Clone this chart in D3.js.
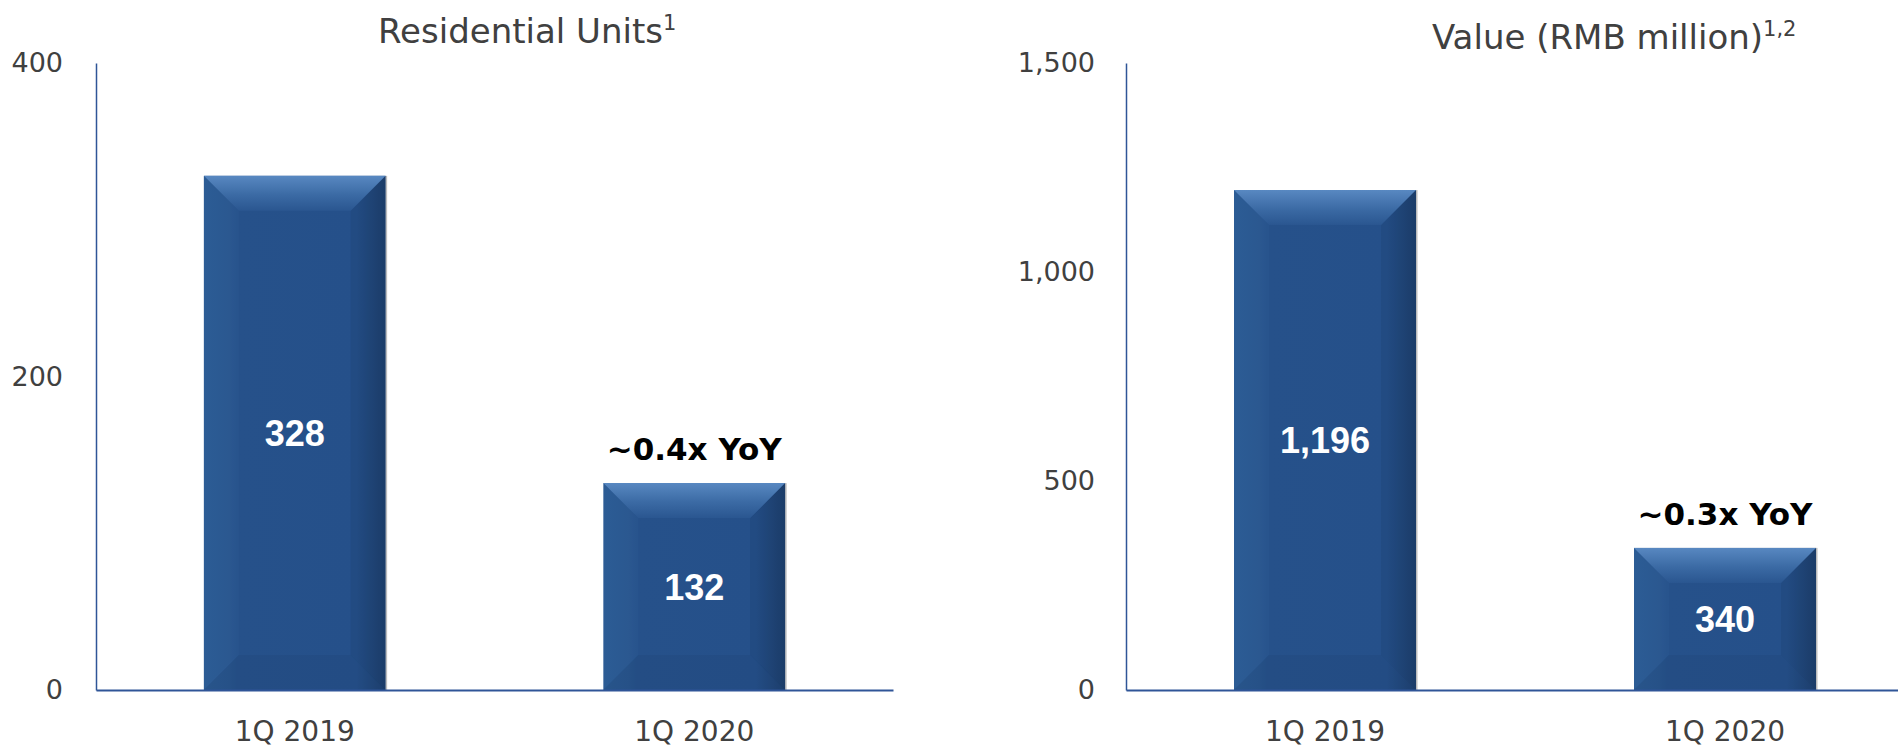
<!DOCTYPE html>
<html>
<head>
<meta charset="utf-8">
<script src="https://cdn.jsdelivr.net/npm/d3@7"></script>
<style>
  body { margin: 0; background: #fff; }
</style>
</head>
<body>
<div id="chart"></div>
<script>
// Data
var categories = ["1Q 2019", "1Q 2020"];
var unitValues = [328, 132];
var rmbValues = [1196, 340];
var unitTicks = [0, 200, 400];
var rmbTicks = [0, 500, 1000, 1500];
var unitNote = "~0.4x YoY";
var rmbNote = "~0.3x YoY";

var svgWidth = 1898;
var svgHeight = 747;

var svg = d3.select("#chart")
  .append("svg")
  .attr("width", svgWidth)
  .attr("height", svgHeight);

// gradients for the bevelled bars
var defs = svg.append("defs");

var bodyGrad = defs.append("linearGradient").attr("id", "barBody")
  .attr("x1", "0").attr("x2", "1").attr("y1", "0").attr("y2", "0");
bodyGrad.append("stop").attr("offset", "0%").attr("stop-color", "#2b5a93");
bodyGrad.append("stop").attr("offset", "14%").attr("stop-color", "#29568e");
bodyGrad.append("stop").attr("offset", "18%").attr("stop-color", "#26518a");
bodyGrad.append("stop").attr("offset", "84%").attr("stop-color", "#25508a");
bodyGrad.append("stop").attr("offset", "100%").attr("stop-color", "#1d3f6d");

var topGrad = defs.append("linearGradient").attr("id", "barTop")
  .attr("x1", "0").attr("x2", "0").attr("y1", "0").attr("y2", "1");
topGrad.append("stop").attr("offset", "0%").attr("stop-color", "#5888c1");
topGrad.append("stop").attr("offset", "55%").attr("stop-color", "#3b6aa4");
topGrad.append("stop").attr("offset", "100%").attr("stop-color", "#2a5690");

var axisColor = "#2f5597";
var textFont = "DejaVu Sans";

function drawPanel(opt) {
  var x = d3.scaleBand()
    .domain(categories)
    .range([opt.left, opt.right])
    .paddingInner(0.545)
    .paddingOuter(0.27);

  var y = d3.scaleLinear()
    .domain([0, opt.max])
    .range([690, 63]);

  var g = svg.append("g");

  // Bars
  var bars = g.selectAll(".bar")
    .data(opt.values)
    .enter()
    .append("g")
    .attr("class", "bar");

  bars.each(function(d, i) {
    var el = d3.select(this);
    var x0 = x(categories[i]);
    var x1 = x0 + x.bandwidth();
    var y0 = y(d);
    var y1 = y(0);
    var b = Math.min(35, (y1 - y0) / 2);

    // light shadow edge on right
    el.append("rect")
      .attr("x", x1)
      .attr("y", y0)
      .attr("width", 1.5)
      .attr("height", y1 - y0)
      .attr("fill", "#bcbcbc");

    el.append("rect")
      .attr("x", x0)
      .attr("y", y0)
      .attr("width", x1 - x0)
      .attr("height", y1 - y0)
      .attr("fill", "url(#barBody)");

    // left bevel
    el.append("polygon")
      .attr("points", [[x0, y0], [x0 + b, y0 + b], [x0 + b, y1 - b], [x0, y1]].join(" "))
      .attr("fill", "#3a6aa6")
      .attr("opacity", 0.12);

    // right bevel
    el.append("polygon")
      .attr("points", [[x1, y0], [x1 - b, y0 + b], [x1 - b, y1 - b], [x1, y1]].join(" "))
      .attr("fill", "#12294a")
      .attr("opacity", 0.12);

    // bottom bevel
    el.append("polygon")
      .attr("points", [[x0, y1], [x0 + b, y1 - b], [x1 - b, y1 - b], [x1, y1]].join(" "))
      .attr("fill", "#1b3c68")
      .attr("opacity", 0.18);

    // top bevel
    el.append("polygon")
      .attr("points", [[x0, y0], [x1, y0], [x1 - b, y0 + b], [x0 + b, y0 + b]].join(" "))
      .attr("fill", "url(#barTop)");
  });

  // Value labels inside bars
  g.selectAll(".val")
    .data(opt.values)
    .enter()
    .append("text")
    .attr("class", "val")
    .attr("x", (d, i) => x(categories[i]) + x.bandwidth() / 2)
    .attr("y", d => (y(d) + y(0)) / 2)
    .attr("dy", "0.36em")
    .attr("text-anchor", "middle")
    .attr("font-family", "Liberation Sans, Arial, sans-serif")
    .attr("font-weight", "bold")
    .attr("font-size", 36)
    .attr("fill", "#fff")
    .text(d => d3.format(",")(d));

  // YoY note above second bar
  g.append("text")
    .attr("x", x(categories[1]) + x.bandwidth() / 2)
    .attr("y", y(opt.values[1]) - 23)
    .attr("text-anchor", "middle")
    .attr("font-family", textFont)
    .attr("font-weight", "bold")
    .attr("font-size", 31)
    .attr("fill", "#000")
    .text(opt.note);

  // Y axis
  var leftAxis = d3.axisLeft(y)
    .tickValues(opt.ticks)
    .tickFormat(d3.format(","))
    .tickSize(0)
    .tickSizeOuter(0)
    .tickPadding(opt.tickPad);

  var yg = g.append("g")
    .attr("transform", `translate(${opt.left}, 0)`)
    .call(leftAxis);
  yg.select(".domain").attr("stroke", axisColor).attr("stroke-width", 1.5);
  yg.selectAll("text")
    .attr("font-family", textFont)
    .attr("font-size", 27)
    .attr("fill", "#404040");

  // X axis
  var bottomAxis = d3.axisBottom(x).tickSize(0).tickSizeOuter(0);
  var xg = g.append("g")
    .attr("transform", `translate(0, ${y(0)})`)
    .call(bottomAxis);
  xg.select(".domain").attr("stroke", axisColor).attr("stroke-width", 2);
  xg.selectAll("text")
    .attr("y", 41)
    .attr("dy", "0.36em")
    .attr("font-family", textFont)
    .attr("font-size", 28)
    .attr("fill", "#404040");

  // Title
  var title = g.append("text")
    .attr("x", opt.titleX)
    .attr("y", opt.titleY)
    .attr("font-family", textFont)
    .attr("font-size", 34)
    .attr("fill", "#404040");
  title.append("tspan").text(opt.title);
  title.append("tspan")
    .attr("font-size", 21)
    .attr("dy", -13)
    .text(opt.sup);
}

drawPanel({
  left: 96, right: 893, max: 400,
  values: unitValues, ticks: unitTicks, note: unitNote,
  tickPad: 33,
  title: "Residential Units", sup: "1", titleX: 378, titleY: 43
});

drawPanel({
  left: 1126, right: 1924, max: 1500,
  values: rmbValues, ticks: rmbTicks, note: rmbNote,
  tickPad: 31,
  title: "Value (RMB million)", sup: "1,2", titleX: 1432, titleY: 49
});
</script>
</body>
</html>
